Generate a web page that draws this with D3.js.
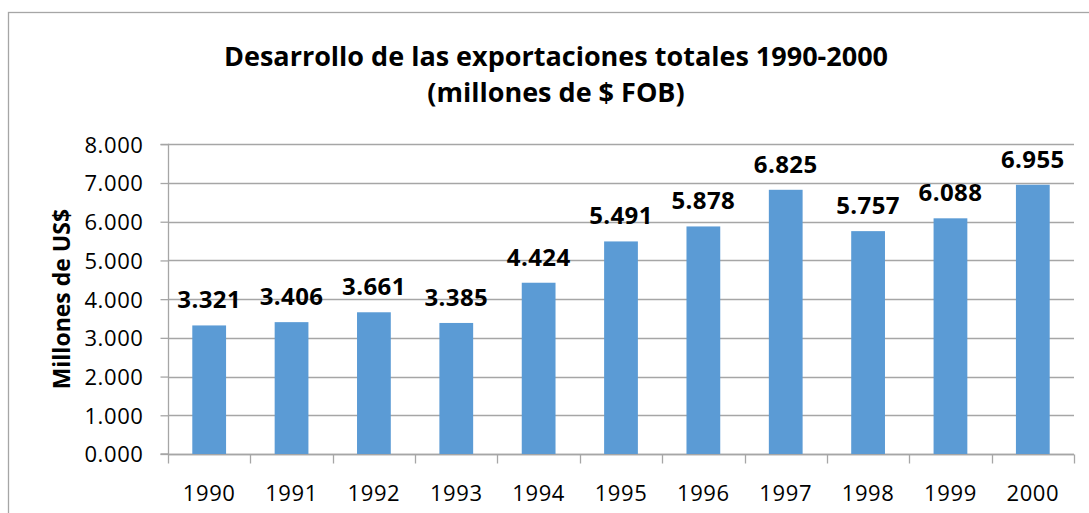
<!DOCTYPE html>
<html>
<head>
<meta charset="utf-8">
<script src="https://cdn.jsdelivr.net/npm/d3@7"></script>
<style>
  html, body { margin: 0; padding: 0; background: #fff; }
  svg { display: block; }
  text { font-family: "Open Sans", "Liberation Sans", sans-serif; fill: #000; }
</style>
</head>
<body>
<svg id="chart" width="1089" height="513"></svg>
<script>
const years = ["1990","1991","1992","1993","1994","1995","1996","1997","1998","1999","2000"];
const exportsValues = [3321, 3406, 3661, 3385, 4424, 5491, 5878, 6825, 5757, 6088, 6955];
const yTicks = [0, 1000, 2000, 3000, 4000, 5000, 6000, 7000, 8000];
const titleLines = ["Desarrollo de las exportaciones totales 1990-2000", "(millones de $ FOB)"];
const yAxisTitle = "Millones de US$";

const svg = d3.select("#chart");
const W = 1089, H = 513;
const plot = { left: 168, right: 1074, top: 144.3, bottom: 454 };

const fmt = v => d3.format(",.3f")(v / 1000).replace(/,/g, "");

// outer frame
svg.append("rect")
  .attr("x", 8.5).attr("y", 12.5)
  .attr("width", W + 20).attr("height", H + 20)
  .attr("fill", "#fff").attr("stroke", "#A6A6A6").attr("stroke-width", 1.3);

const x = d3.scaleBand().domain(years).range([plot.left, plot.right]).padding(0);
const y = d3.scaleLinear().domain([0, 8000]).range([plot.bottom, plot.top]);

// gridlines
svg.append("g").selectAll("line").data(yTicks).join("line")
  .attr("x1", plot.left).attr("x2", plot.right)
  .attr("y1", d => Math.round(y(d)) + 0.5).attr("y2", d => Math.round(y(d)) + 0.5)
  .attr("stroke", "#A6A6A6").attr("stroke-width", 1.3);

// y axis
const yAxis = d3.axisLeft(y).tickValues(yTicks).tickSize(8).tickPadding(20).tickFormat(fmt);
const gy = svg.append("g").attr("transform", `translate(${plot.left + 0.5},0)`).call(yAxis);
gy.select(".domain").attr("stroke", "#A6A6A6").attr("stroke-width", 1.3).attr("d", `M-8,${y(8000)}H0V${y(0)}H-8`);
gy.selectAll(".tick line").attr("stroke", "#A6A6A6").attr("stroke-width", 1.3);
gy.selectAll(".tick text").attr("font-size", "22px").attr("fill", "#000")
  .attr("letter-spacing", "0.6px")
  .attr("font-family", "\"Open Sans\", sans-serif").attr("dy", "0.36em").attr("dx", "3");

// x axis
const xAxis = d3.axisBottom(x).tickSize(0).tickPadding(0);
const gx = svg.append("g").attr("transform", `translate(0,${Math.round(plot.bottom) + 0.5})`).call(xAxis);
gx.select(".domain").attr("stroke", "#A6A6A6").attr("stroke-width", 1.3).attr("d", `M${plot.left},0H${plot.right}`);
gx.selectAll(".tick text").attr("font-size", "22px").attr("fill", "#000")
  .attr("letter-spacing", "0.6px")
  .attr("font-family", "\"Open Sans\", sans-serif").attr("y", 46).attr("dy", 0);
// boundary ticks between categories
const bounds = years.map(d => x(d)).concat([plot.right]);
gx.append("g").selectAll("line").data(bounds).join("line")
  .attr("x1", d => Math.round(d) + 0.5).attr("x2", d => Math.round(d) + 0.5)
  .attr("y1", 0).attr("y2", 9)
  .attr("stroke", "#A6A6A6").attr("stroke-width", 1.3);

// bars
const barW = x.bandwidth() * 0.41;
svg.append("g").selectAll("rect").data(years).join("rect")
  .attr("x", (d) => x(d) + (x.bandwidth() - barW) / 2)
  .attr("width", barW)
  .attr("y", (d, i) => y(exportsValues[i]))
  .attr("height", (d, i) => y(0) - y(exportsValues[i]))
  .attr("fill", "#5B9BD5");

// data labels
svg.append("g").selectAll("text").data(years).join("text")
  .attr("x", d => x(d) + x.bandwidth() / 2)
  .attr("y", (d, i) => y(exportsValues[i]) - 17)
  .attr("text-anchor", "middle")
  .attr("font-size", "24px").attr("font-weight", "bold")
  .attr("letter-spacing", "0.4px")
  .text((d, i) => fmt(exportsValues[i]));

// title
svg.append("text").attr("x", 556).attr("y", 66).attr("text-anchor", "middle")
  .attr("font-size", "27px").attr("font-weight", "bold").text(titleLines[0]);
svg.append("text").attr("x", 556).attr("y", 102).attr("text-anchor", "middle")
  .attr("font-size", "27px").attr("font-weight", "bold").text(titleLines[1]);

// y axis title
svg.append("text")
  .attr("transform", `translate(70,${(plot.top + plot.bottom) / 2}) rotate(-90)`)
  .attr("text-anchor", "middle")
  .attr("font-size", "23px").attr("font-weight", "bold").text(yAxisTitle);
</script>
</body>
</html>
